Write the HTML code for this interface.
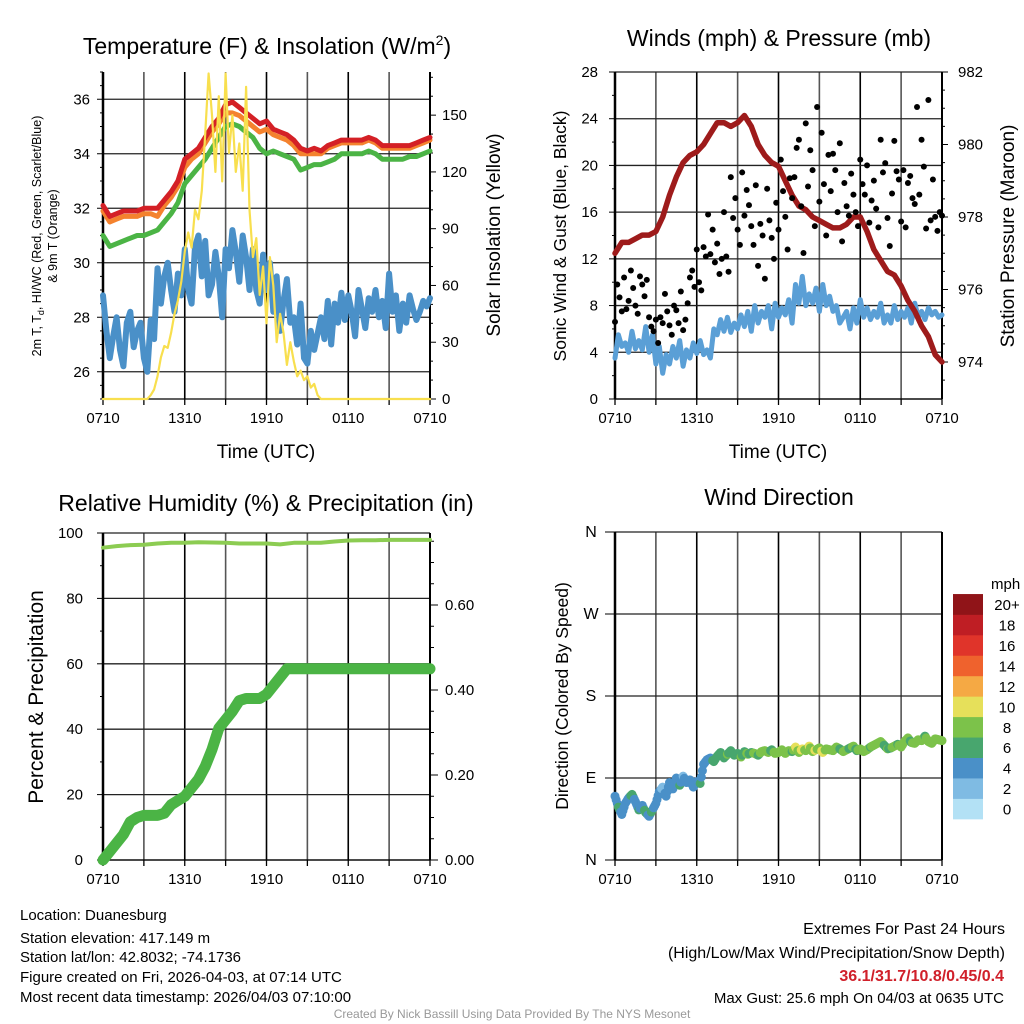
<!DOCTYPE html>
<html><head><meta charset="utf-8"><style>
html,body{margin:0;padding:0;background:#fff;}
svg{display:block;font-family:"Liberation Sans",Arial,sans-serif;}
</style></head><body>
<svg id="fig" width="1024" height="1024" viewBox="0 0 1024 1024" xmlns="http://www.w3.org/2000/svg">
<rect width="1024" height="1024" fill="#fff"/>
<g id="p1"></g>
<g id="p2"></g>
<g id="p3"></g>
<g id="p4"></g>
<text x="267" y="54" font-size="23" text-anchor="middle">Temperature (F) &amp; Insolation (W/m<tspan dy="-9" font-size="14">2</tspan><tspan dy="9">)</tspan></text>
<text x="779" y="46" font-size="23" text-anchor="middle">Winds (mph) &amp; Pressure (mb)</text>
<text x="266" y="511" font-size="23" text-anchor="middle">Relative Humidity (%) &amp; Precipitation (in)</text>
<text x="779" y="505" font-size="23" text-anchor="middle">Wind Direction</text>
<g font-size="15">
<text x="20" y="920">Location: Duanesburg</text>
<text x="20" y="943">Station elevation: 417.149 m</text>
<text x="20" y="962">Station lat/lon: 42.8032; -74.1736</text>
<text x="20" y="982">Figure created on Fri, 2026-04-03, at 07:14 UTC</text>
<text x="20" y="1002">Most recent data timestamp: 2026/04/03 07:10:00</text>
</g>
<g font-size="16" text-anchor="end">
<text x="1005" y="934">Extremes For Past 24 Hours</text>
<text x="1005" y="958">(High/Low/Max Wind/Precipitation/Snow Depth)</text>
<text x="1004" y="981" fill="#d0202a" font-weight="bold">36.1/31.7/10.8/0.45/0.4</text>
<text x="1004" y="1003" font-size="15">Max Gust: 25.6 mph On 04/03 at 0635 UTC</text>
</g>
<text x="512" y="1018" font-size="12" fill="#999" text-anchor="middle">Created By Nick Bassill Using Data Provided By The NYS Mesonet</text>
</svg>
<script>
// ---- data (hours since 0710 UTC) ----
const timeLabels = ["0710","1310","1910","0110","0710"];
const tempRed = [32.1,31.7,31.8,31.9,31.9,31.9,32.0,32.0,32.0,32.3,32.6,33.0,33.8,34.0,34.2,34.6,35.0,35.3,35.8,35.9,35.7,35.5,35.3,35.1,35.2,34.9,34.8,34.7,34.5,34.2,34.1,34.2,34.1,34.3,34.4,34.5,34.5,34.5,34.5,34.6,34.5,34.3,34.3,34.3,34.3,34.3,34.4,34.5,34.6];
const tempOrange = [31.9,31.5,31.6,31.7,31.7,31.7,31.8,31.8,31.7,32.1,32.4,32.8,33.5,33.8,34.0,34.4,34.8,35.1,35.5,35.5,35.4,35.2,35.0,34.8,34.9,34.7,34.6,34.5,34.3,34.0,34.0,34.0,34.0,34.2,34.3,34.4,34.4,34.4,34.4,34.5,34.4,34.2,34.2,34.2,34.2,34.2,34.3,34.4,34.5];
const tempGreen = [31.0,30.6,30.7,30.8,30.9,31.0,31.0,31.1,31.2,31.5,31.8,32.2,32.9,33.2,33.5,33.8,34.2,34.6,35.0,35.1,35.0,34.8,34.6,34.2,34.0,34.1,34.0,33.9,33.8,33.4,33.5,33.6,33.6,33.7,33.8,34.0,34.0,34.0,34.0,34.1,34.0,33.8,33.8,33.8,33.8,33.9,33.9,34.0,34.1];
const dewBlue = [28.8,27.5,26.5,27.3,28.0,26.8,26.2,27.8,28.2,26.9,27.5,27.8,26.5,26.0,27.9,27.2,
29.8,28.5,29.5,30.0,29.0,28.2,29.6,28.8,30.5,29.0,28.5,30.6,31.0,29.5,30.8,28.8,
29.2,30.4,29.5,28.0,30.5,29.8,31.2,30.4,29.3,31.0,30.2,29.0,30.5,29.0,28.5,30.3,
29.0,30.0,28.2,29.5,27.5,28.6,29.4,27.8,28.0,27.0,28.5,26.5,26.3,27.5,26.8,27.4,
28.0,27.2,28.6,27.0,28.5,27.8,28.9,27.9,28.8,28.2,27.3,29.0,28.3,27.6,28.7,28.2,
29.0,28.0,28.6,27.6,29.6,28.2,28.8,27.5,28.5,27.8,28.8,28.3,27.9,28.2,28.6,28.4,28.7];
const solar = [0,0,0,0,0,0,0,0,0,0,0,0,0,
0,2,5,12,22,28,27,35,45,52,62,78,88,80,100,95,110,140,172,150,120,160,115,172,130,150,120,135,110,165,100,75,85,55,70,40,75,60,30,45,35,18,30,20,12,15,10,12,6,8,2,0,
0,0,0,0,0,0,0,0,0,0,0,0,0,0,0,0,0,0,0,0,0,0,0,0,0,0,0,0,0,0,0,0];
const tempTicks = [26,28,30,32,34,36];
const solarTicks = [0,30,60,90,120,150];

const pressure = [977.0,977.3,977.3,977.4,977.5,977.5,977.6,978.0,978.6,979.1,979.5,979.7,979.8,980.0,980.3,980.6,980.6,980.5,980.6,980.8,980.5,980.0,979.7,979.5,979.4,979.0,978.6,978.3,978.2,978.0,977.9,977.8,977.7,977.7,977.8,978.0,978.0,977.6,977.1,976.8,976.5,976.4,976.1,975.7,975.4,975.0,974.7,974.2,974.0];
const windSpeed = [3.5,5.5,4.5,4.8,4.0,5.8,4.3,5.0,4.2,6.2,4.0,5.5,3.0,4.5,2.2,3.8,
3.0,4.5,3.5,5.0,2.8,4.2,3.5,4.8,3.9,5.0,3.8,4.2,3.5,6.0,5.5,6.8,
5.8,7.0,5.7,6.5,6.0,7.2,6.2,7.5,5.8,8.0,6.5,7.5,7.0,8.0,6.0,8.2,
7.0,7.8,7.2,8.5,6.5,9.8,8.2,10.5,8.0,9.0,8.2,9.5,7.5,9.8,8.0,8.8,
7.5,8.0,6.5,7.0,7.5,6.0,7.8,6.5,8.5,7.0,7.8,6.8,7.5,7.0,8.2,6.5,
7.2,6.5,8.0,6.8,7.5,7.0,7.8,6.5,8.2,7.0,7.5,6.8,7.8,7.2,7.5,7.0,7.2];
const gusts = [6.6,9.8,8.7,7.5,10.4,7.7, 8.4,11.0,9.5,8.0,7.3,10.5, 9.8,8.8,10.2,7.0,6.2,5.8, 6.8,4.8,7.0,6.5,9.0,7.5,
6.3,5.5,8.0,7.6,6.5,9.2, 5.9,6.8,8.2,10.4,11.0,9.6, 12.8,10.0,9.3,13.0,12.2,15.8, 12.4,14.5,11.7,13.3,10.7,12.0,
16.0,12.2,10.9,19.0,15.5,17.2, 14.5,13.2,19.4,15.7,17.9,16.6, 14.8,13.2,18.3,11.4,15.0,14.0, 10.3,18.0,15.3,13.8,12.0,16.8,
14.5,20.5,17.8,15.6,12.8,18.9, 17.2,19.0,21.5,22.2,16.5,12.5, 23.6,18.2,21.3,19.6,14.8,25.0, 16.9,22.8,18.4,14.0,20.9,17.8,
21.0,19.6,16.0,21.9,13.5,18.5, 16.5,15.7,19.3,17.5,16.0,14.8, 20.5,18.4,17.5,20.0,15.1,17.0, 18.7,16.3,14.7,22.2,19.4,20.2,
15.5,13.1,17.6,22.1,19.5,18.8, 15.2,19.6,14.7,18.5,19.1,17.2, 16.7,25.0,17.5,22.2,19.9,14.6, 25.6,15.3,18.8,15.6,14.4,16.0, 15.7];
const windTicks = [0,4,8,12,16,20,24,28];
const pressTicks = [974,976,978,980,982];

const rh = [95.5,96,96.3,96.4,96.8,97,97,97.2,97.1,97,96.8,96.8,96.8,96.5,97,97,97,97.4,97.7,97.8,97.8,97.9,97.9,97.9,97.9];
const precip = [0,0.02,0.04,0.06,0.09,0.10,0.105,0.105,0.105,0.11,0.13,0.14,0.15,0.17,0.19,0.22,0.26,0.31,0.33,0.35,0.375,0.38,0.38,0.38,0.39,0.41,0.43,0.45,0.45,0.45,0.45,0.45,0.45,0.45,0.45,0.45,0.45,0.45,0.45,0.45,0.45,0.45,0.45,0.45,0.45,0.45,0.45,0.45,0.45];
const pctTicks = [0,20,40,60,80,100];
const precipTicks = ["0.00","0.20","0.40","0.60"];

const windDir = [70,58,50,62,68,72,64,55,60,52,48,55,62,75,80,70,
85,78,90,82,92,85,88,80,86,84,105,110,112,108,114,118,
112,116,120,115,117,113,119,116,118,117,115,119,120,118,121,117,
118,121,117,120,119,124,118,122,120,125,119,121,123,118,122,121,
120,124,122,119,121,123,125,120,122,119,121,124,126,128,130,126,
122,123,125,127,124,130,134,129,128,132,131,136,130,128,133,132,131];
const dirTicks = ["N","E","S","W","N"];
const speedLabels = ["0","2","4","6","8","10","12","14","16","18","20+"];
const speedColors = ["#b3e1f5","#7fbbe3","#4a90c8","#48a66e","#7cc24a","#e6e05a","#f5a944","#ef622d","#e0342a","#bf1e24","#901418"];

// ---- helpers ----
const NS="http://www.w3.org/2000/svg";
function mk(parent,tag,attrs){const e=document.createElementNS(NS,tag);for(const k in attrs)e.setAttribute(k,attrs[k]);parent.appendChild(e);return e;}
const X0=103, W=327;
function xs(h,x0){return x0+h/24*W;}
function lin(d0,d1,r0,r1){return v=>r0+(v-d0)/(d1-d0)*(r1-r0);}

function frame(g,x0,top,bot,hlines){
  for(let i=0;i<=8;i++){const x=xs(i*3,x0);
    const l=mk(g,'line',{x1:x,x2:x,y1:top,y2:bot,stroke:(i%2?'#555':'#000'),'stroke-width':1.6});
    
    }
  hlines.forEach(y=>{const l=mk(g,'line',{x1:x0,x2:x0+W,y1:y,y2:y,stroke:'#222','stroke-width':1.3});
    
    });
  const b=mk(g,'line',{x1:x0,x2:x0,y1:top,y2:bot,stroke:'#000','stroke-width':2.5});
  
  
  const r=mk(g,'line',{x1:x0+W,x2:x0+W,y1:top,y2:bot,stroke:'#000','stroke-width':2});
  
  
  const bl=mk(g,'line',{x1:x0,x2:x0+W,y1:bot,y2:bot,stroke:'#000','stroke-width':1.3});
  
  
  for(let i=0;i<=8;i++){const x=xs(i*3,x0);
    const t=mk(g,'line',{x1:x,x2:x,y1:bot,y2:bot+6,stroke:'#000','stroke-width':1.3});
    
    }
  timeLabels.forEach((s,i)=>{const t=mk(g,'text',{x:xs(i*6,x0),y:bot+24,'font-size':15,'text-anchor':'middle'});t.textContent=s;
    
    });
}
function path(g,pts,attrs){return mk(g,'path',Object.assign({d:'M'+pts.map(p=>p[0].toFixed(1)+','+p[1].toFixed(1)).join('L'),fill:'none','stroke-linejoin':'round','stroke-linecap':'round'},attrs));}
function series(arr,step,x0,ys){return arr.map((v,i)=>[xs(i*step,x0),ys(v)]);}
function ylab(g,x,y,s,anchor){const t=mk(g,'text',{x:x,y:y+5,'font-size':15,'text-anchor':anchor});t.textContent=s;return t;}

// ---- Panel 1 ----
(function(){
  const g=document.getElementById('p1');const top=72,bot=399;
  const yT=lin(25,37,bot,top), yS=lin(0,172.8,bot,top);
  frame(g,X0,top,bot,tempTicks.map(yT));
  for(let v=25;v<=37;v+=0.5){const y=yT(v);const t=mk(g,'line',{x1:X0-(v%2===0?6:3),x2:X0,y1:y,y2:y,stroke:'#000'});
    
    }
  for(let v=0;v<=170;v+=10){const y=yS(v);const t=mk(g,'line',{x1:X0+W,x2:X0+W+(v%30===0?6:3),y1:y,y2:y,stroke:'#000'});
    
    }
  tempTicks.forEach(v=>{const t=ylab(g,90,yT(v),v,'end');
    
    });
  solarTicks.forEach(v=>{const t=ylab(g,442,yS(v),v,'start');
    
    });
  const b=path(g,series(dewBlue,0.25,X0,yT),{stroke:'#4a90c8','stroke-width':6});
  
  
  const gr=path(g,series(tempGreen,0.5,X0,yT),{stroke:'#4bb445','stroke-width':5});
  
  
  const o=path(g,series(tempOrange,0.5,X0,yT),{stroke:'#f4822e','stroke-width':5});
  
  
  const r=path(g,series(tempRed,0.5,X0,yT),{stroke:'#d42026','stroke-width':5});
  
  
  const s=path(g,series(solar,0.25,X0,yS),{stroke:'#f8df4e','stroke-width':2.2});
  
  
  const t1=mk(g,'text',{x:266,y:458,'font-size':19,'text-anchor':'middle'});t1.textContent='Time (UTC)';
  
  
  const a=mk(g,'text',{transform:'translate(41,236) rotate(-90)','font-size':12.5,'text-anchor':'middle'});
  a.innerHTML='2m T, T<tspan dy="3" font-size="9">d</tspan><tspan dy="-3">, HI/WC (Red, Green, Scarlet/Blue)</tspan>';
  
  
  const a2=mk(g,'text',{transform:'translate(57,236) rotate(-90)','font-size':12.5,'text-anchor':'middle'});a2.textContent='& 9m T (Orange)';
  
  
  const a3=mk(g,'text',{transform:'translate(500,235) rotate(-90)','font-size':19,'text-anchor':'middle'});a3.textContent='Solar Insolation (Yellow)';
  
  
})();

// ---- Panel 2 ----
(function(){
  const g=document.getElementById('p2');const x0=615,top=72,bot=399;
  const yW=lin(0,28,bot,top), yP=lin(974,982,362,72);
  frame(g,x0,top,bot,windTicks.map(yW));
  for(let v=0;v<=28;v+=2){const y=yW(v);const t=mk(g,'line',{x1:x0-(v%4===0?6:3),x2:x0,y1:y,y2:y,stroke:'#000'});
    
    }
  for(let v=973.5;v<=982;v+=0.5){const y=yP(v);const t=mk(g,'line',{x1:x0+W,x2:x0+W+(v%2===0?6:3),y1:y,y2:y,stroke:'#000'});
    
    }
  windTicks.forEach(v=>{const t=ylab(g,598,yW(v),v,'end');
    
    });
  pressTicks.forEach(v=>{const t=ylab(g,958,yP(v),v,'start');
    
    });
  const w=path(g,series(windSpeed,0.25,x0,yW),{stroke:'#5a9fd6','stroke-width':5});
  
  
  const p=path(g,series(pressure,0.5,x0,yP),{stroke:'#9e1b1b','stroke-width':5.5});
  
  
  gusts.forEach((v,i)=>{const c=mk(g,'circle',{cx:xs(i/6,x0),cy:yW(v),r:3,fill:'#000'});
    
    });
  const t1=mk(g,'text',{x:778,y:458,'font-size':19,'text-anchor':'middle'});t1.textContent='Time (UTC)';
  
  
  const a=mk(g,'text',{transform:'translate(566,236) rotate(-90)','font-size':17.5,'text-anchor':'middle'});a.textContent='Sonic Wind & Gust (Blue, Black)';
  
  
  const a2=mk(g,'text',{transform:'translate(1014,236) rotate(-90)','font-size':19,'text-anchor':'middle'});a2.textContent='Station Pressure (Maroon)';
  
  
})();

// ---- Panel 3 ----
(function(){
  const g=document.getElementById('p3');const top=533,bot=860;
  const yH=lin(0,100,bot,top), yR=lin(0,0.6,bot,605);
  frame(g,X0,top,bot,pctTicks.map(yH));
  for(let v=0;v<=100;v+=10){const y=yH(v);const t=mk(g,'line',{x1:X0-(v%20===0?6:3),x2:X0,y1:y,y2:y,stroke:'#000'});
    
    }
  for(let k=0;k<=15;k++){const v=k*0.05;const y=yR(v);const t=mk(g,'line',{x1:X0+W,x2:X0+W+(k%4===0?8:4),y1:y,y2:y,stroke:'#000'});
    
    }
  pctTicks.forEach(v=>{const t=ylab(g,83,yH(v),v,'end');
    
    });
  precipTicks.forEach(s=>{const t=ylab(g,445,yR(parseFloat(s)),s,'start');
    
    });
  const h=path(g,series(rh,1,X0,yH),{stroke:'#8ccc52','stroke-width':4});
  
  
  const p=path(g,series(precip,0.5,X0,yR),{stroke:'#4bb445','stroke-width':11});
  
  
  const a=mk(g,'text',{transform:'translate(43,697) rotate(-90)','font-size':21,'text-anchor':'middle'});a.textContent='Percent & Precipitation';
  
  
})();

// ---- Panel 4 ----
(function(){
  const g=document.getElementById('p4');const x0=615,top=532,bot=860;
  const yD=lin(0,360,bot,top);
  frame(g,x0,top,bot,[0,90,180,270,360].map(yD));
  dirTicks.forEach((s,i)=>{const y=yD(i*90);
    const t=mk(g,'line',{x1:x0-10,x2:x0,y1:y,y2:y,stroke:'#000'});
    
    
    const l=ylab(g,591,y,s,'middle');l.setAttribute('font-size','16');
    
    });
  function col(v){return speedColors[Math.min(10,Math.max(0,Math.round(v/2)))];}
  for(let i=0;i<windDir.length;i++){
    const last=i===windDir.length-1;const n=last?1:3;
    for(let k=0;k<n;k++){
      const f=k/n;const d=windDir[i]+(last?0:(windDir[i+1]-windDir[i])*f);
      const s=windSpeed[i]+(last?0:(windSpeed[i+1]-windSpeed[i])*f);
      const c=mk(g,'circle',{cx:xs((i+f)*0.25,x0),cy:yD(d),r:4.5,fill:col(s)});
      
      
    }
  }
  speedColors.forEach((c,i)=>{const y=819-(i+1)*20.45;
    const r=mk(g,'rect',{x:953,y:y,width:30,height:20.8,fill:c});
    
    
    const t=mk(g,'text',{x:1007,y:y+16,'font-size':15,'text-anchor':'middle'});t.textContent=speedLabels[i];
    
    });
  const m=mk(g,'text',{x:991,y:589,'font-size':15});m.textContent='mph';
  
  
  const a=mk(g,'text',{transform:'translate(568,696) rotate(-90)','font-size':17.5,'text-anchor':'middle'});a.textContent='Direction (Colored By Speed)';
  
  
})();
</script>
</body></html>
